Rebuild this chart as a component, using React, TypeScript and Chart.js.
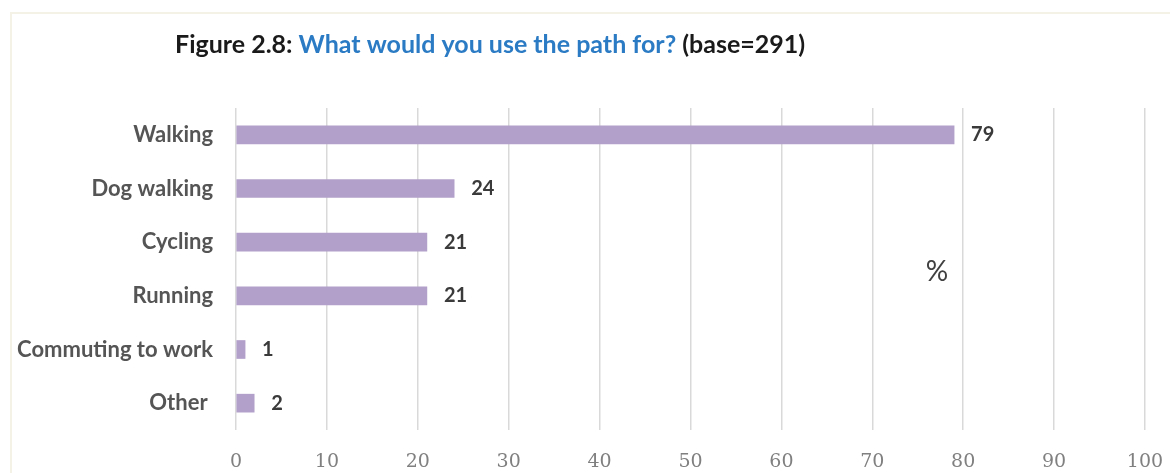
import React, { useEffect, useRef } from "react";
import { Chart, registerables } from "chart.js";

Chart.register(...registerables);

const categories = ["Walking", "Dog walking", "Cycling", "Running", "Commuting to work", "Other "];
const values = [79, 24, 21, 21, 1, 2];
const xTicks = [0, 10, 20, 30, 40, 50, 60, 70, 80, 90, 100];

const titleParts = [
  { text: "Figure 2.8: ", color: "#1a1a1a" },
  { text: "What would you use the path for?", color: "#2b7bc4" },
  { text: " (base=291)", color: "#1a1a1a" },
];

const W = 1170;
const H = 473;

const overlayPlugin = {
  id: "overlay",
  afterDraw(chart: any) {
    const ctx = chart.ctx;
    ctx.save();
    // title
    ctx.font = "bold 25px Lato";
    ctx.textBaseline = "middle";
    ctx.textAlign = "left";
    let x = 175;
    for (const p of titleParts) {
      ctx.fillStyle = p.color;
      ctx.fillText(p.text, x, 45);
      x += ctx.measureText(p.text).width;
    }
    // data labels
    const meta = chart.getDatasetMeta(0);
    ctx.font = "bold 20px Lato";
    ctx.fillStyle = "#3a3a3a";
    meta.data.forEach((bar: any, i: number) => {
      ctx.fillText(String(values[i]), bar.x + 17, bar.y);
    });
    // % marker
    ctx.font = "28px Lato";
    ctx.fillStyle = "#404040";
    ctx.textAlign = "center";
    ctx.fillText("%", 937, 272);
    ctx.restore();
  },
};

export default function App() {
  const ref = useRef<HTMLCanvasElement>(null);
  useEffect(() => {
    if (!ref.current) return;
    const chart = new Chart(ref.current, {
      type: "bar",
      data: {
        labels: categories,
        datasets: [
          {
            data: values,
            backgroundColor: "#b2a0ca",
            borderWidth: 0,
            barThickness: 18,
          },
        ],
      },
      options: {
        indexAxis: "y",
        animation: false,
        responsive: false,
        maintainAspectRatio: false,
        layout: { padding: { top: 108, right: 25, left: 0, bottom: 0 } },
        plugins: {
          legend: { display: false },
          tooltip: { enabled: false },
          title: { display: false },
        },
        scales: {
          x: {
            min: 0,
            max: 100,
            afterBuildTicks(scale: any) {
              scale.ticks = xTicks.map((v) => ({ value: v }));
            },
            afterFit(scale: any) {
              scale.height = 43;
              scale.paddingLeft = 0;
              scale.paddingRight = 0;
            },
            grid: { display: true, color: "#d9d9d9", lineWidth: 1.5, drawTicks: false },
            border: { display: false },
            ticks: {
              padding: 21,
              color: "#808080",
              font: { family: "DejaVu Serif", size: 19 },
            },
          },
          y: {
            afterFit(scale: any) {
              scale.width = 236;
            },
            grid: { display: false, drawTicks: false },
            border: { display: false },
            ticks: {
              padding: 23,
              color: "#555555",
              font: { family: "Lato", size: 22, weight: "bold" },
            },
          },
        },
      },
      plugins: [overlayPlugin],
    });
    return () => chart.destroy();
  }, []);
  return (
    <div style={{ position: "fixed", left: 0, top: 0, width: W, height: H, background: "#fff" }}>
      <div
        style={{
          position: "absolute",
          left: 10,
          top: 12,
          right: -4,
          bottom: -4,
          border: "2px solid #f4f1e6",
        }}
      />
      <canvas ref={ref} width={W} height={H} style={{ position: "absolute", left: 0, top: 0 }} />
    </div>
  );
}
